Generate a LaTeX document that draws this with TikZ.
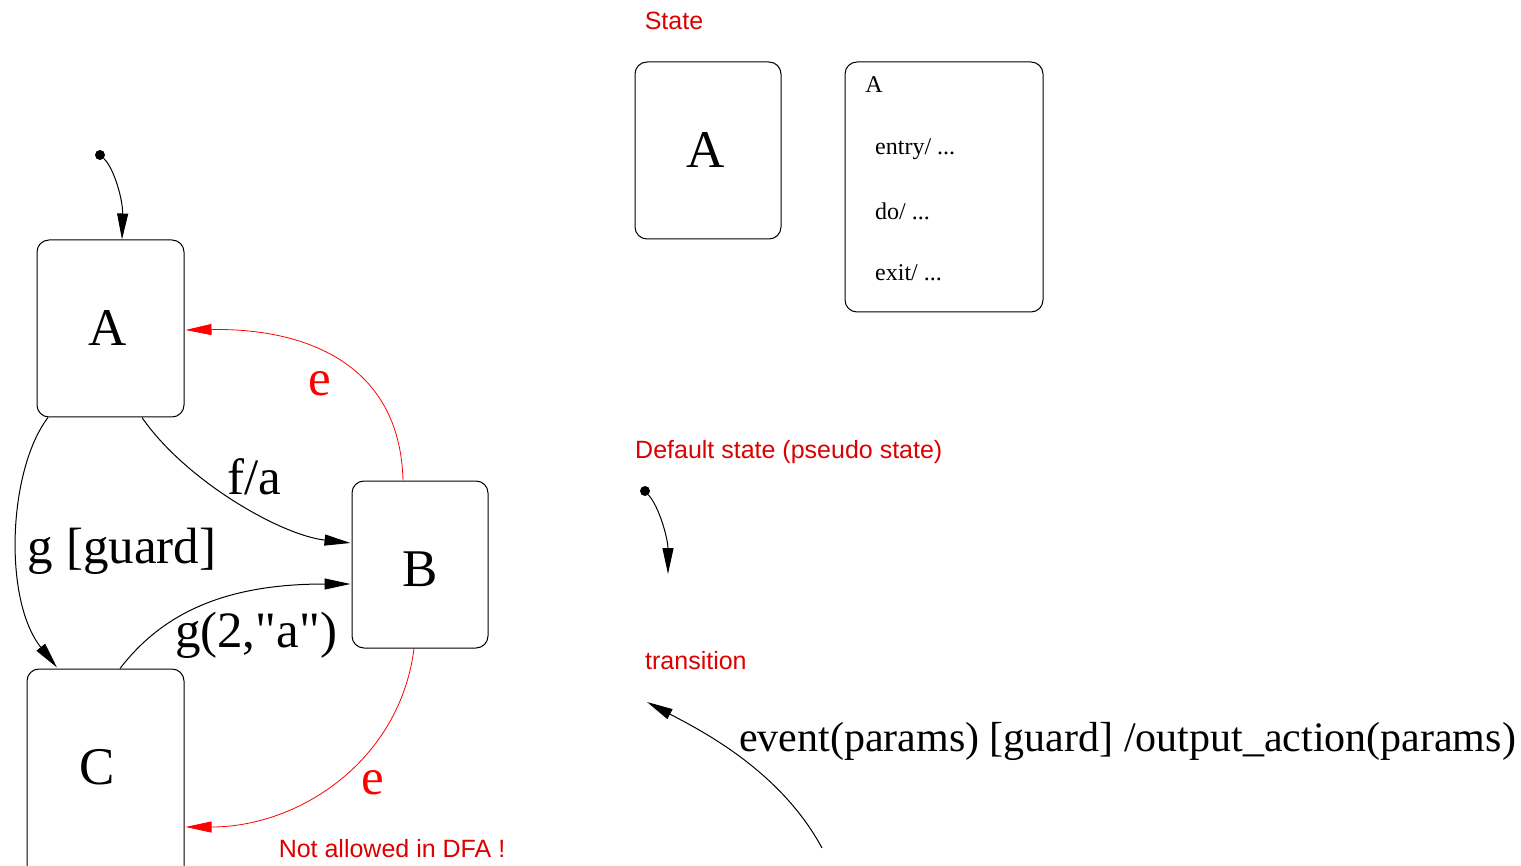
\documentclass[tikz,border=0pt]{standalone}
\usepackage{fontspec}
\setmainfont{Liberation Serif}
\setsansfont{Liberation Sans}
\usetikzlibrary{arrows.meta,calc}
\definecolor{notered}{RGB}{220,0,0}
\tikzset{
  statebox/.style={draw,rounded corners=12pt,line width=1pt,inner sep=0pt},
  bigname/.style={font=\fontsize{53}{60}\selectfont,inner sep=0pt},
  translabel/.style={font=\fontsize{51}{58}\selectfont,inner sep=0pt},
  smalltext/.style={font=\fontsize{24}{28}\selectfont,inner sep=0pt},
  note/.style={font=\sffamily\fontsize{25}{30}\selectfont,text=notered,inner sep=0pt},
  pseudo/.style={circle,fill=black,inner sep=0pt,minimum size=10pt},
  trans/.style={->,line width=1pt},
  redtrans/.style={->,red,line width=0.8pt}
}
\begin{document}
\begin{tikzpicture}[x=1pt,y=-1pt,>={Triangle[length=26pt,width=11pt]}, line join=round]
  \useasboundingbox (0,0) rectangle (1521,866);
  % left: small automaton
  \node[statebox,minimum width=147pt,minimum height=177pt] (A) at (110.5,328.5) {};
  \node[bigname] (Aname) at (108,328) {A};
  \node[statebox,minimum width=136pt,minimum height=167pt] (B) at (420,564.5) {};
  \node[bigname] (Bname) at (420,569) {B};
  \node[statebox,minimum width=157pt,minimum height=240pt] (C) at (105.5,789) {};
  \node[bigname] (Cname) at (97,767) {C};
  \node[pseudo] (init) at (100,155) {};
  \draw[trans] (init) .. controls (114,168) and (123,200) .. ($(A.north)+(11.5,0)$);
  \draw[trans] ($(A.south)+(31.5,0)$) .. controls (185,480) and (280,535) .. ($(B.west)+(-1,-21.5)$);
  \draw[trans] ($(A.south)+(-62.5,0)$) .. controls (8,470) and (3,600) .. ($(C.north)+(-48.5,-1)$);
  \draw[trans] ($(C.north)+(14.5,0)$) .. controls (165,610) and (230,584) .. ($(B.west)+(-1,19.5)$);
  \draw[redtrans] ($(B.north)+(-17,0)$) .. controls (400,360) and (300,328) .. ($(A.east)+(1,1.5)$);
  \draw[redtrans] ($(B.south)+(-6,0)$) .. controls (400,760) and (300,827) .. ($(C.east)+(1,38)$);
  \node[translabel] (fa) at (254,477) {f/a};
  \node[translabel] (gg) at (122,551) {g [guard]};
  \node[translabel] (g2) at (256,635) {g(2,\textquotedbl a\textquotedbl)};
  \node[translabel,text=red] (e1) at (320,384) {e};
  \node[translabel,text=red] (e2) at (373,783) {e};
  \node[note] (dfa) at (392,849) {Not allowed in DFA !};
  % right: legend
  \node[note] (stateN) at (674,21) {State};
  \node[statebox,minimum width=146pt,minimum height=177pt] (S1) at (708,150.5) {};
  \node[bigname] (S1name) at (706,150) {A};
  \node[statebox,minimum width=198pt,minimum height=250pt] (S2) at (944,187) {};
  \node[smalltext] (S2name) at (874,85) {A};
  \node[smalltext,anchor=west] (entry) at (875,149) {entry/ ...};
  \node[smalltext,anchor=west] (do) at (875,211) {do/ ...};
  \node[smalltext,anchor=west] (exit) at (875,273) {exit/ ...};
  \node[note,anchor=west] (defN) at (635,452) {Default state (pseudo state)};
  \node[pseudo] (init2) at (645,491) {};
  \coordinate (init2end) at (668,574);
  \draw[trans] (init2) .. controls (660,508) and (668,540) .. (init2end);
  \node[note,anchor=west] (transN) at (645,661) {transition};
  \coordinate (tfrom) at (822,848);
  \coordinate (tto) at (647,702);
  \draw[trans] (tfrom) .. controls (780,770) and (700,730) .. (tto);
  \node[font=\fontsize{42}{48}\selectfont,inner sep=0pt,anchor=west] (syntax) at (739,741) {event(params) [guard] /output\_action(params)};
\end{tikzpicture}
\end{document}
